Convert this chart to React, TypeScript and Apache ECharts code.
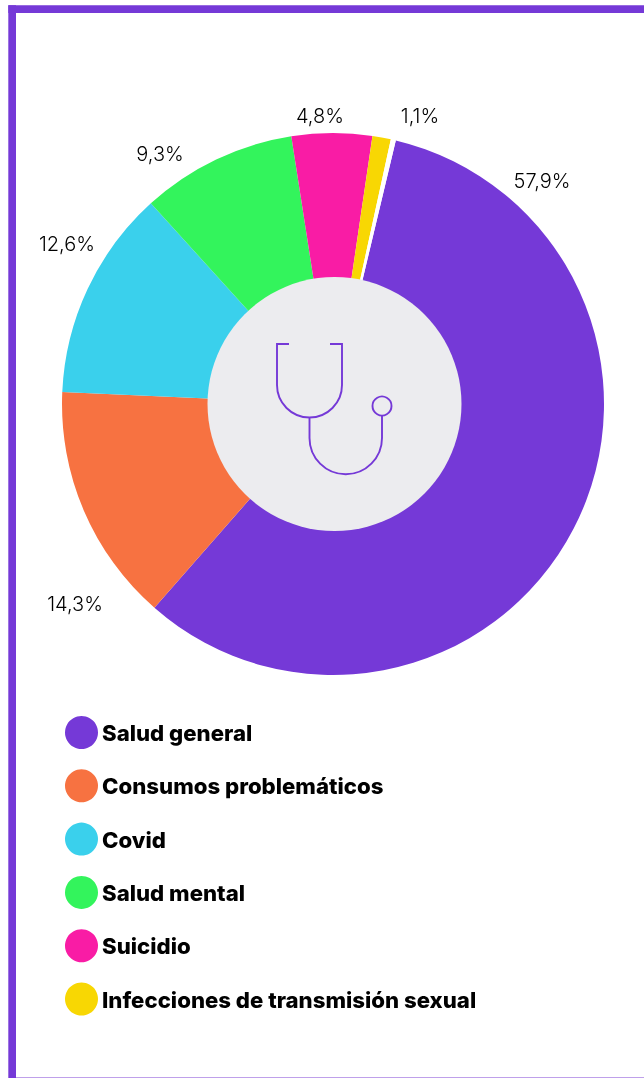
import React, { useEffect, useRef } from "react";
import * as echarts from "echarts";

const categories = ["Salud general", "Consumos problemáticos", "Covid", "Salud mental", "Suicidio", "Infecciones de transmisión sexual"];
const values = [57.9, 14.3, 12.6, 9.3, 4.8, 1.1];
const colors = ["#7539D7", "#F77241", "#3AD0EC", "#33F45C", "#F91CA5", "#F8D703"];
const spacerValue = 0.3;
// label centres, in chart pixels, one per category
const labelX = [542, 75, 67, 160, 320, 420];
const labelY = [181, 604, 244, 154, 116, 116];

const PURPLE = "#7539D7";
const FONT = "Inter, sans-serif";
const stethoscope =
  "M289 344 H277 V385 A32.5 32.5 0 0 0 342 385 V344 H330 M309.5 418 V438 A36.25 36.25 0 0 0 382 438 V416";
(echarts.graphic as any).registerShape("stethoscope", (echarts.graphic as any).extendPath(stethoscope, {}));

export default function App() {
  const ref = useRef<HTMLDivElement>(null);
  useEffect(() => {
    const chart = echarts.init(ref.current!, undefined, { renderer: "svg" });
    const data: any[] = categories.map((name, i) => ({ name, value: values[i], itemStyle: { color: colors[i] } }));
    data.push({
      name: "",
      value: spacerValue,
      itemStyle: { color: "#FFFFFF" },
      label: { show: false },
      labelLine: { show: false },
    });
    chart.setOption({
      animation: false,
      legend: {
        orient: "vertical",
        left: 60,
        top: 711,
        icon: "circle",
        itemWidth: 33,
        itemHeight: 33,
        itemGap: 20.3,
        data: categories,
        selectedMode: false,
        textStyle: { fontFamily: FONT, fontWeight: 800, fontSize: 22.2, color: "#000", padding: [0, 0, 0, -1] },
      },
      series: [
        {
          type: "pie",
          center: [333, 404],
          radius: [120, 271],
          startAngle: 76.6,
          clockwise: true,
          data,
          itemStyle: { borderWidth: 0 },
          label: {
            show: true,
            position: "outside",
            overflow: "none",
            width: 100,
            fontFamily: FONT,
            fontWeight: 300,
            fontSize: 20,
            color: "#000",
            formatter: (p: any) => p.value.toFixed(1).replace(".", ",") + "%",
          },
          labelLine: { show: false },
          labelLayout: (p: any) => ({
            x: labelX[p.dataIndex] ?? 0,
            y: labelY[p.dataIndex] ?? 0,
            align: "center",
            verticalAlign: "middle",
          }),
        },
      ],
      graphic: [
        { type: "rect", shape: { x: 8.3, y: 5.3, width: 636, height: 7.7 }, style: { fill: PURPLE }, z: 10 },
        { type: "rect", shape: { x: 8.3, y: 5.3, width: 7.7, height: 1073 }, style: { fill: PURPLE }, z: 10 },
        { type: "rect", shape: { x: 16, y: 1077, width: 628, height: 1 }, style: { fill: "#BFA0EA" }, z: 10 },
        { type: "circle", shape: { cx: 334.5, cy: 404, r: 127 }, style: { fill: "#ECECEF" }, z: 10 },
        { type: "stethoscope", style: { fill: "none", stroke: PURPLE, lineWidth: 1.9 }, z: 11 },
        { type: "circle", shape: { cx: 382, cy: 406, r: 9.5 }, style: { fill: "none", stroke: PURPLE, lineWidth: 1.9 }, z: 11 },
      ],
    });
    return () => chart.dispose();
  }, []);
  return <div ref={ref} style={{ position: "fixed", left: 0, top: 0, width: 644, height: 1078 }} />;
}
